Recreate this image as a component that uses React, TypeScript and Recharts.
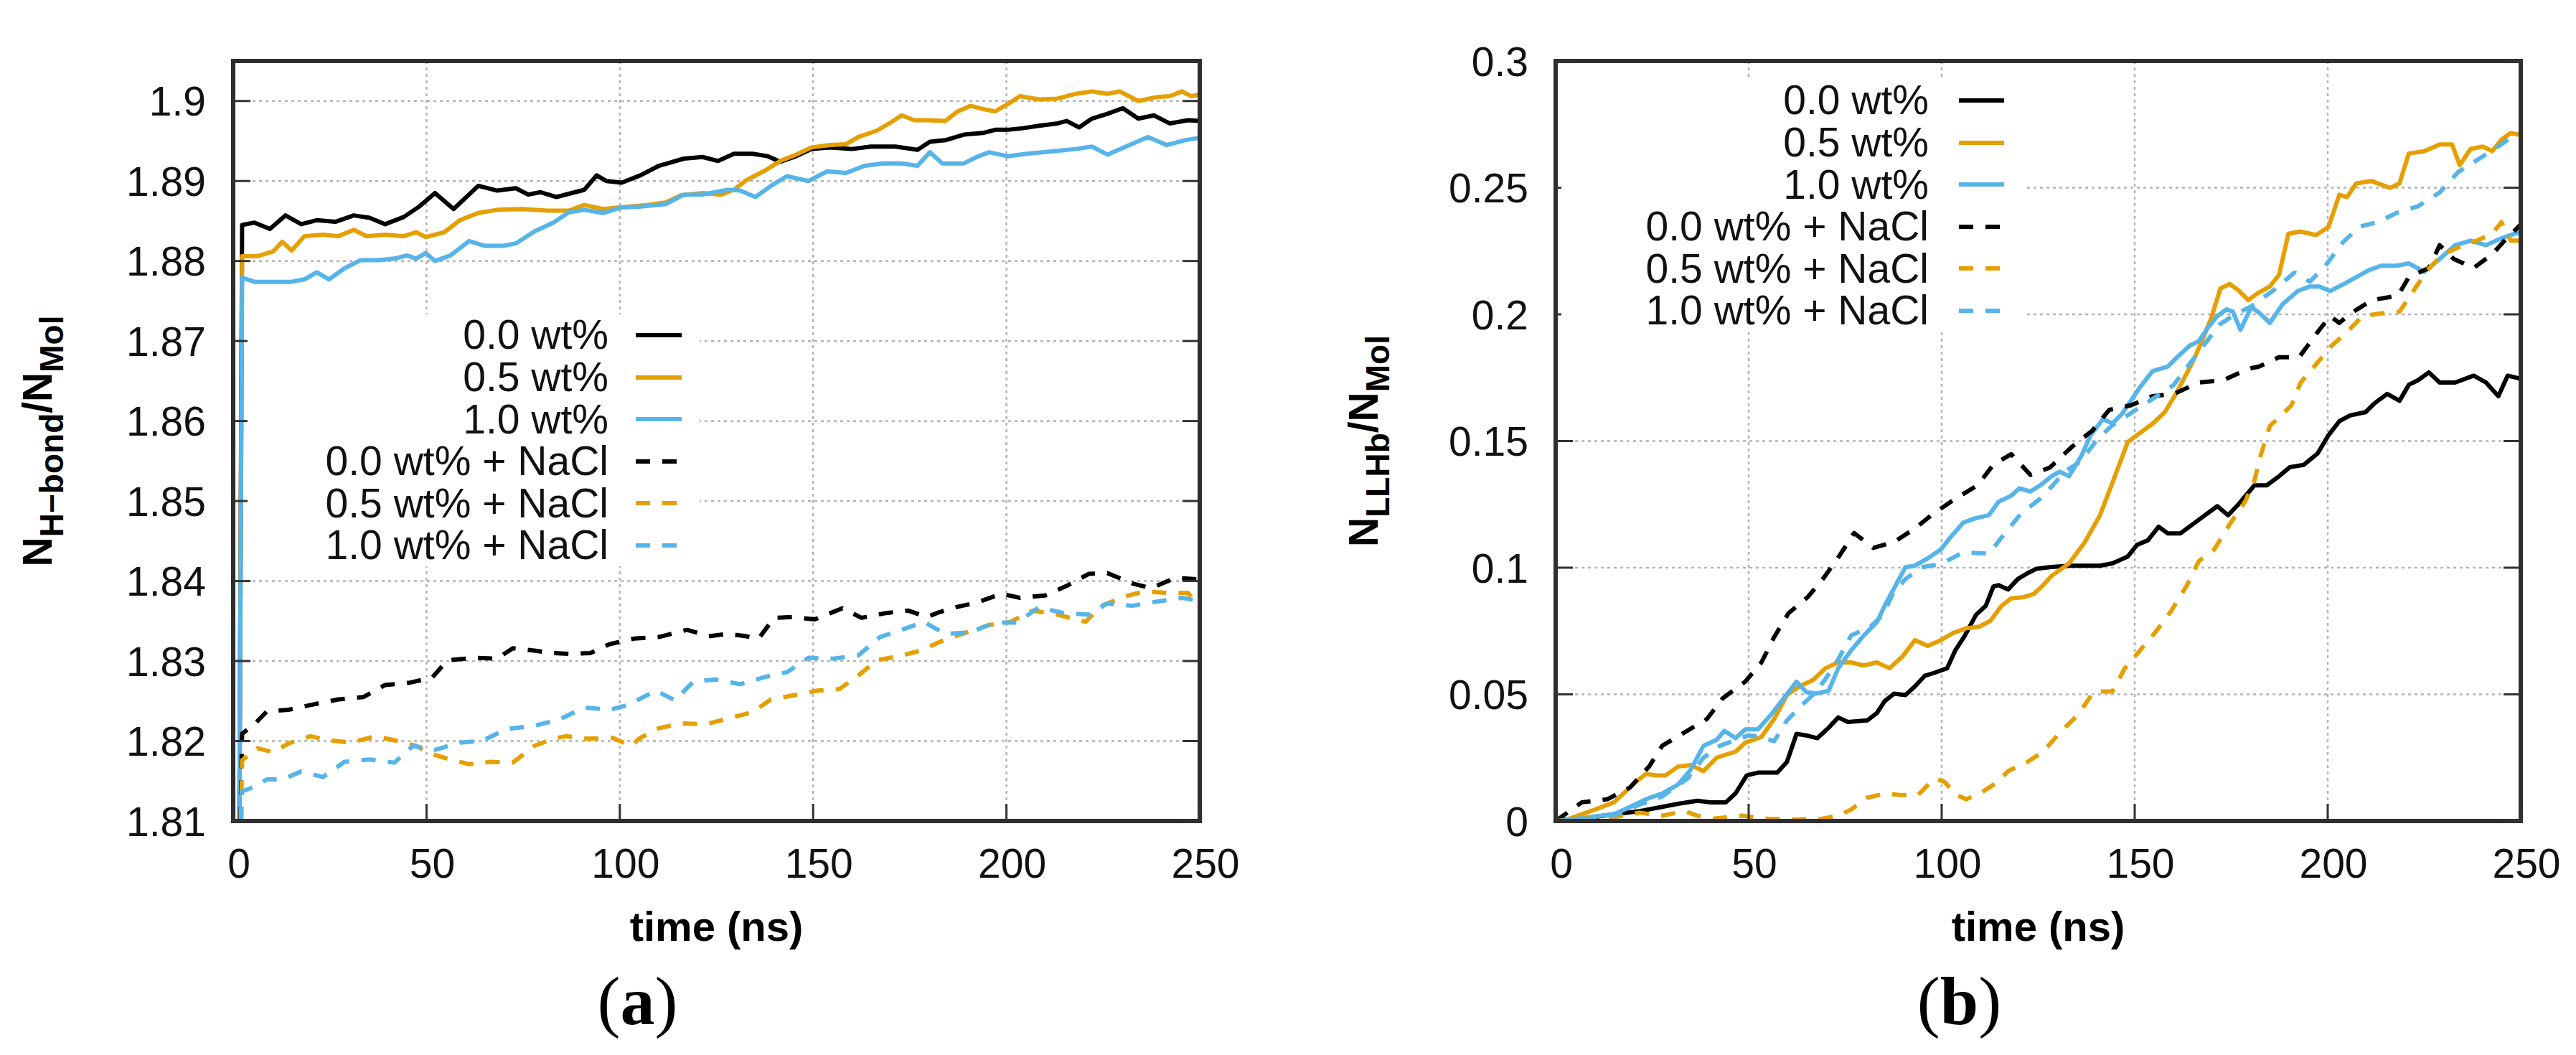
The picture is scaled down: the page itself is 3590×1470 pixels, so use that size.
import React from 'react';
import { LineChart, Line, XAxis, YAxis, CartesianGrid, Legend } from 'recharts';

// ---------- ticks / categories ----------
const X_TICKS = [0, 50, 100, 150, 200, 250];
const Y_TICKS_A = [1.81, 1.82, 1.83, 1.84, 1.85, 1.86, 1.87, 1.88, 1.89, 1.9];
const Y_TICKS_B = [0, 0.05, 0.1, 0.15, 0.2, 0.25, 0.3];
const SERIES_NAMES = ['0.0 wt%', '0.5 wt%', '1.0 wt%', '0.0 wt% + NaCl', '0.5 wt% + NaCl', '1.0 wt% + NaCl'];

// ---------- panel (a): N_H-bond / N_Mol  [time (ns), value] ----------
const A_00: [number, number][] = [[1.5,1.80],[2.3,1.8845],[5.5,1.8848],[9.5,1.884],[13.5,1.8857],[17.6,1.8846],[21.6,1.8851],[26.4,1.8849],[31.2,1.8857],[35.3,1.8854],[39.3,1.8846],[44.1,1.8855],[48.1,1.8868],[52.2,1.8885],[57,1.8865],[63.4,1.8894],[68.3,1.8888],[73.1,1.8891],[76.3,1.8883],[79.5,1.8886],[83.6,1.888],[90.8,1.8889],[94,1.8907],[96.5,1.89],[100.5,1.8898],[105.3,1.8907],[110.1,1.8919],[116.6,1.8928],[121.4,1.893],[125.4,1.8925],[129.5,1.8934],[134.3,1.8934],[138.3,1.8931],[141.5,1.8924],[145.6,1.8931],[149.6,1.894],[154.4,1.8942],[160.1,1.894],[164.9,1.8943],[171.3,1.8943],[177,1.8939],[180.2,1.8949],[184.2,1.8951],[189,1.8958],[193.9,1.896],[197.1,1.8964],[200.3,1.8964],[204.3,1.8966],[208.4,1.8969],[213.2,1.8972],[215.6,1.8975],[218.8,1.8967],[222.1,1.8978],[226.1,1.8984],[230.1,1.8991],[234.1,1.8978],[238.2,1.8982],[242.2,1.8972],[247,1.8976],[250,1.8975]];
const A_05: [number, number][] = [[1.5,1.80],[2.3,1.8806],[6.3,1.8806],[10.3,1.8812],[12.7,1.8824],[15.1,1.8813],[18.4,1.8831],[23.2,1.8833],[27.2,1.8831],[31.2,1.8839],[34.5,1.8831],[39.3,1.8833],[44.1,1.8831],[47.3,1.8836],[49.8,1.883],[54.6,1.8836],[58.6,1.8851],[63.4,1.886],[68.3,1.8864],[74.7,1.8865],[81.2,1.8863],[86.8,1.8863],[90.8,1.887],[95.7,1.8865],[102.1,1.8868],[106.9,1.887],[111.8,1.8873],[115.8,1.8882],[121.4,1.8885],[126.2,1.8883],[129.5,1.8889],[132.7,1.8901],[137.5,1.8913],[141.5,1.8925],[145.6,1.8933],[149.6,1.8942],[154.4,1.8945],[158.5,1.8946],[161.7,1.8955],[166.5,1.8963],[169.7,1.8972],[172.9,1.8982],[176.2,1.8976],[179.4,1.8976],[184.2,1.8975],[187.4,1.8987],[190.7,1.8994],[193.9,1.899],[197.1,1.8987],[200.3,1.8996],[203.5,1.9006],[208.4,1.9002],[213.2,1.9003],[218,1.9009],[222.1,1.9012],[226.1,1.9009],[229.3,1.9012],[234.1,1.9],[239,1.9005],[242.2,1.9006],[245.4,1.9012],[247.8,1.9006],[250,1.9008]];
const A_10: [number, number][] = [[1.5,1.80],[2.3,1.8779],[5.5,1.8774],[10.3,1.8774],[15.1,1.8774],[18.4,1.8777],[21.6,1.8786],[24.8,1.8777],[28.8,1.8791],[32.9,1.8801],[37.7,1.8801],[41.7,1.8803],[44.9,1.8807],[47.3,1.8803],[49.8,1.881],[52.2,1.88],[56.2,1.8807],[61,1.8825],[65.1,1.8819],[69.9,1.8819],[73.1,1.8822],[77.9,1.8837],[82.8,1.8848],[86.8,1.8861],[90.8,1.8864],[95.7,1.886],[100.5,1.8867],[105.3,1.8868],[111.8,1.8871],[116.6,1.8883],[121.4,1.8883],[127.9,1.8889],[131.1,1.8888],[135.1,1.888],[139.1,1.8894],[143.2,1.8906],[148.8,1.89],[153.6,1.8912],[158.5,1.891],[163.3,1.8919],[168.1,1.8922],[172.9,1.8922],[177,1.8919],[180.2,1.8936],[183.4,1.8922],[189,1.8922],[192.3,1.893],[195.5,1.8936],[200.3,1.8931],[205.2,1.8934],[211.6,1.8937],[218,1.894],[222.1,1.8943],[226.1,1.8933],[230.9,1.8943],[236.6,1.8955],[241.4,1.8945],[246.2,1.8951],[250,1.8954]];
const A_00N: [number, number][] = [[1.5,1.80],[2.3,1.8209],[5.5,1.8221],[8.7,1.8237],[14.3,1.8239],[20,1.8245],[27.2,1.8252],[33.7,1.8255],[39.3,1.827],[45.7,1.8273],[51.4,1.8279],[55.4,1.8301],[62.6,1.8304],[68.3,1.8303],[72.3,1.8316],[77.9,1.8313],[82.8,1.831],[86.8,1.8309],[92.4,1.831],[97.3,1.8321],[103.7,1.8328],[110.1,1.833],[117.4,1.8339],[123,1.8331],[127.9,1.8334],[132.7,1.8331],[135.9,1.8328],[139.9,1.8354],[144.8,1.8355],[150.4,1.8352],[157.6,1.8366],[162.5,1.8354],[168.9,1.836],[174.6,1.8363],[179.4,1.8355],[182.6,1.8361],[186.6,1.8367],[192.3,1.8373],[198.7,1.8384],[203.5,1.8379],[210,1.8382],[215.6,1.8394],[221.3,1.8409],[226.1,1.841],[232.5,1.8397],[237.4,1.8391],[243.8,1.8404],[250,1.8402]];
const A_05N: [number, number][] = [[1.5,1.80],[2.3,1.8176],[6.3,1.8191],[10.3,1.8186],[14.3,1.8197],[20,1.8206],[24.8,1.8201],[30.4,1.8198],[36.9,1.8206],[42.5,1.82],[47.3,1.8194],[50.6,1.8185],[54.6,1.8179],[61,1.8171],[66.7,1.8174],[72.3,1.8173],[77.9,1.8194],[82.8,1.8203],[86,1.8206],[91.6,1.8203],[98.1,1.8204],[102.9,1.8194],[105.3,1.8204],[110.1,1.8216],[115.8,1.8222],[122.2,1.8221],[127.1,1.8227],[134.3,1.8236],[139.1,1.8252],[144.8,1.8257],[151.2,1.8263],[156.8,1.8265],[161.7,1.8282],[166.5,1.8301],[172.1,1.8306],[177.8,1.8313],[184.2,1.8327],[189.9,1.8336],[195.5,1.8345],[201.1,1.8349],[206.8,1.8363],[214,1.8357],[220.5,1.8349],[224.5,1.8369],[230.9,1.8381],[235.7,1.8387],[242.2,1.8385],[247,1.8385],[250,1.8367]];
const A_10N: [number, number][] = [[1.5,1.80],[2.3,1.8137],[5.5,1.8143],[8.7,1.8152],[12.7,1.8152],[17.6,1.8162],[23.2,1.8155],[28.8,1.8174],[35.3,1.8177],[41.7,1.8173],[46.5,1.8194],[52.2,1.8189],[58.6,1.8198],[64.3,1.82],[70.7,1.8215],[77.9,1.8219],[84.4,1.8227],[90.8,1.8242],[97.3,1.8239],[102.1,1.8245],[109.3,1.8263],[114.2,1.8251],[119,1.8274],[124.6,1.8277],[131.1,1.8271],[137.5,1.828],[143.2,1.8286],[148.8,1.8304],[155.2,1.8303],[161.7,1.8307],[167.3,1.833],[172.9,1.8339],[178.6,1.8349],[184.2,1.8334],[190.7,1.8336],[197.1,1.8348],[202.7,1.8348],[208.4,1.8367],[214.8,1.836],[221.3,1.8358],[226.1,1.8372],[232.5,1.8369],[239.8,1.8375],[245.4,1.8379],[250,1.8375]];

// ---------- panel (b): N_LLHb / N_Mol  [time (ns), value] ----------
const B_00: [number, number][] = [[0,0],[6.8,0.0009],[15.1,0.0027],[21.7,0.0039],[27.6,0.0056],[31.7,0.0068],[36.7,0.008],[40,0.0074],[44.1,0.0074],[46.6,0.0109],[49.5,0.018],[52.4,0.0191],[57.4,0.0191],[59.9,0.0233],[62.4,0.0344],[64.9,0.0338],[67.8,0.0327],[70.7,0.0368],[73.2,0.0409],[75.7,0.0391],[80.7,0.0397],[83.2,0.0426],[85.2,0.0473],[87.7,0.0503],[90.6,0.0497],[93.1,0.0532],[95.6,0.0573],[98.1,0.0585],[101.4,0.0603],[103.5,0.0673],[106,0.0732],[108.9,0.0814],[111.4,0.0849],[113.4,0.0926],[114.7,0.0931],[117.2,0.0914],[119.7,0.0955],[122.2,0.0978],[124.6,0.0996],[128,0.1002],[133,0.1008],[141,0.1008],[144.2,0.1017],[148.2,0.1044],[150.6,0.109],[153.4,0.1108],[156.2,0.1162],[158.6,0.1135],[161.8,0.1135],[165,0.1171],[168.2,0.1207],[171.4,0.1243],[174.2,0.1207],[177,0.1252],[181,0.1325],[184.2,0.1325],[187.4,0.1361],[190.2,0.1397],[193.8,0.1406],[197.4,0.1451],[200.2,0.1523],[203,0.1578],[205.8,0.1601],[209.8,0.1614],[212.2,0.165],[215.4,0.1686],[218.6,0.1659],[221,0.1722],[223.4,0.174],[226.2,0.1771],[229,0.1731],[233,0.1731],[237.8,0.1758],[241,0.1731],[244.2,0.1677],[246.6,0.1758],[249.1,0.1749],[250,0.1745]];
const B_05: [number, number][] = [[0,0],[3.5,0.0009],[6.8,0.0027],[11,0.005],[15.1,0.0074],[17.6,0.0109],[20.9,0.0156],[23.4,0.0186],[25.9,0.018],[28.4,0.018],[31.7,0.0215],[35,0.0221],[38.3,0.0197],[41.7,0.025],[44.1,0.0262],[46.6,0.0274],[49.1,0.0309],[53.3,0.0332],[56.6,0.0403],[59.9,0.0497],[63.2,0.0532],[66.6,0.0556],[69.9,0.0603],[73.2,0.0626],[76.5,0.0626],[79.8,0.0614],[83.2,0.0626],[86.5,0.0603],[89.8,0.0649],[93.1,0.0714],[96.4,0.0691],[99.8,0.0714],[103.1,0.0743],[106.4,0.0761],[109.7,0.0767],[112.6,0.079],[115.5,0.0849],[118,0.0879],[121.3,0.0884],[123.8,0.0896],[126.3,0.0931],[128.4,0.0967],[133,0.1017],[137,0.1099],[141,0.1207],[144.2,0.1334],[148.2,0.1496],[151.4,0.1532],[154.6,0.1568],[157.8,0.1614],[161,0.1695],[165,0.1812],[167.4,0.1894],[169.8,0.1984],[172.2,0.2102],[174.6,0.212],[177,0.2093],[179.4,0.2056],[181.8,0.2083],[185,0.211],[187.4,0.2156],[189.8,0.2318],[193,0.2327],[197,0.2313],[200.2,0.2345],[203,0.2472],[205,0.2463],[207.4,0.2517],[211.4,0.2526],[216.2,0.2499],[218.6,0.2517],[221,0.2635],[225,0.2644],[229,0.2671],[232.2,0.2671],[234.2,0.2589],[237,0.2653],[240.2,0.2662],[242.6,0.2644],[245,0.2689],[247.4,0.2716],[250,0.2707]];
const B_10: [number, number][] = [[0,0],[3.5,0.0004],[8.5,0.0015],[15.1,0.0027],[19.3,0.0056],[23.4,0.0086],[27.6,0.0109],[31.7,0.0144],[35,0.0203],[38.3,0.0297],[41.7,0.0321],[43.7,0.0356],[46.6,0.0327],[49.1,0.0362],[52.4,0.0362],[55.8,0.042],[59.1,0.0485],[62.4,0.055],[64.9,0.0509],[67.4,0.0503],[70.7,0.0514],[73.2,0.0603],[76.5,0.0673],[79.8,0.0732],[83.2,0.0785],[85.6,0.0861],[88.1,0.0931],[90.6,0.1002],[93.1,0.1008],[96.4,0.1037],[99.8,0.1072],[102.2,0.1119],[105.6,0.1178],[108.9,0.1196],[112.2,0.1207],[114.7,0.126],[118,0.1284],[120.1,0.1313],[123,0.1301],[125.5,0.1325],[128.4,0.136],[130.6,0.1379],[133,0.1361],[136.2,0.1442],[138.6,0.1523],[141.8,0.1587],[144.2,0.1569],[146.6,0.1605],[149,0.1659],[151.4,0.1713],[154.6,0.1776],[158.6,0.1794],[161,0.1831],[164.2,0.1876],[166.6,0.1894],[169,0.1948],[171.4,0.1993],[173.8,0.202],[175.4,0.2011],[177.4,0.1939],[180.2,0.2029],[182.6,0.2002],[185,0.1966],[188.2,0.2038],[192.2,0.2092],[195.4,0.211],[197.8,0.211],[200.6,0.2092],[204.2,0.212],[207.4,0.2147],[210.6,0.2174],[213.8,0.2192],[217.8,0.2192],[221,0.2201],[225,0.2168],[229,0.2219],[233,0.2273],[237,0.2291],[241,0.2273],[245,0.23],[250,0.2327]];
const B_00N: [number, number][] = [[0,0],[6.8,0.0074],[13.4,0.0086],[19.3,0.0133],[24.2,0.0215],[27.6,0.0297],[33.4,0.035],[39.2,0.0403],[43.3,0.0485],[49.1,0.055],[53.3,0.0626],[56.6,0.0726],[60.3,0.082],[65.3,0.0884],[69.5,0.0961],[73.6,0.1049],[77.3,0.1137],[82.3,0.1078],[87.7,0.1102],[93.1,0.1155],[97.3,0.1207],[103.5,0.1272],[109.3,0.1325],[113.4,0.1407],[118,0.1448],[123,0.1366],[128,0.1395],[133.8,0.1478],[139,0.1541],[143.4,0.1623],[149,0.1641],[154.6,0.1677],[160.2,0.1686],[166.6,0.1731],[173,0.174],[179.4,0.1785],[182.2,0.1794],[187.4,0.1831],[192.6,0.1831],[197.4,0.193],[200.6,0.1993],[203,0.1966],[205.8,0.2002],[211.4,0.2056],[218.2,0.2074],[221,0.2147],[226.2,0.2183],[229,0.2273],[232.6,0.2219],[237.8,0.2183],[242.6,0.2237],[245.8,0.2291],[250,0.2355]];
const B_05N: [number, number][] = [[0,0],[6.8,0.0009],[15.1,0.0015],[21.7,0.0033],[27.6,0.0021],[33.4,0.0039],[36.7,0.0021],[40.8,0.0009],[48.3,0.0021],[54.9,0.0009],[61.6,0.0006],[69,0.0009],[73.2,0.0021],[76.5,0.0045],[80.7,0.0092],[85.6,0.0109],[89,0.0103],[93.9,0.0103],[98.1,0.0168],[100.6,0.0156],[103.9,0.0103],[106.4,0.0086],[110.5,0.0115],[114.7,0.0156],[117.2,0.0197],[122.2,0.0233],[126.3,0.0274],[130.6,0.0349],[135.4,0.0421],[139.4,0.0511],[144.2,0.0511],[147.4,0.0602],[151.4,0.0674],[155.4,0.0746],[159.4,0.0828],[163.4,0.0927],[166.6,0.1026],[170.6,0.1072],[174.6,0.1171],[178.6,0.1261],[181,0.1343],[182.6,0.1442],[185,0.1559],[188.2,0.1605],[190.6,0.1641],[193,0.1731],[197,0.1803],[201,0.1876],[205,0.193],[209,0.1993],[213,0.2002],[218.6,0.2011],[222.6,0.2102],[225.8,0.2174],[229.8,0.2237],[233.8,0.2264],[238.6,0.2291],[242.6,0.2318],[245,0.2364],[247.4,0.2291],[250,0.2291]];
const B_10N: [number, number][] = [[0,0],[6.8,0.0006],[15.1,0.0021],[19.3,0.005],[23.4,0.0074],[27.6,0.0097],[30.9,0.0133],[34.2,0.0168],[38.3,0.025],[42.5,0.0297],[45.8,0.0315],[50,0.0338],[53.3,0.0332],[56.6,0.0315],[59.9,0.0397],[64.1,0.0462],[67.4,0.0509],[69.9,0.0561],[73.2,0.0638],[76.5,0.0732],[81.5,0.0767],[84.8,0.0814],[87.3,0.0896],[90.6,0.0955],[94.8,0.1002],[99.8,0.1014],[105.6,0.1061],[112.2,0.1055],[115.5,0.1119],[120.5,0.1213],[125.5,0.1272],[128.4,0.1319],[132,0.138],[136,0.142],[140,0.15],[144,0.156],[148,0.16],[152,0.164],[156,0.168],[160,0.172],[164,0.18],[168,0.188],[172,0.196],[176,0.2],[180,0.203],[185.8,0.2093],[191.4,0.2165],[195.4,0.2129],[199.4,0.2192],[203.8,0.2282],[208.2,0.2346],[213,0.2364],[217.8,0.24],[223.4,0.2427],[229,0.2481],[233.8,0.2562],[238.6,0.2608],[245,0.2671],[248.2,0.2707],[250,0.2716]];

// ---------- styles ----------
const COLORS = ['#000000', '#E69F00', '#56B4E9', '#000000', '#E69F00', '#56B4E9'];
const DASHES = [undefined, undefined, undefined, '20 17', '20 17', '20 17'];
const SANS = '"Liberation Sans", Arial, Helvetica, sans-serif';
const SERIF = '"Liberation Serif", "Times New Roman", serif';
const H = 1470;
const TOP = 85;
const BOTTOM = 326;
const BORDER = { stroke: '#2e2e2e', strokeWidth: 6, strokeLinecap: 'square' as const };
const TICK_LEN = 24;
const ROW_H = 58.6;
const FONT = 57;
const LINE_W = 6;

const toPts = (arr: [number, number][]) => arr.map(([t, v]) => ({ t, v }));
const fmt = (v: number) => String(Number(v.toFixed(4)));

const XTickBottom = (p: any) => (
  <g>
    <line x1={p.x} x2={p.x} y1={p.y} y2={p.y - TICK_LEN} stroke="#333" strokeWidth={3} />
    <text x={p.x + 8} y={p.y + 79} textAnchor="middle" fontFamily={SANS} fontSize={FONT} fill="#111">
      {fmt(p.payload.value)}
    </text>
  </g>
);
const XTickTop = (p: any) => (
  <line x1={p.x} x2={p.x} y1={p.y} y2={p.y + TICK_LEN} stroke="#333" strokeWidth={3} />
);
const YTickLeft = (p: any) => (
  <g>
    <line x1={p.x} x2={p.x + TICK_LEN} y1={p.y} y2={p.y} stroke="#333" strokeWidth={3} />
    <text x={p.x - 38} y={p.y} dy="0.36em" textAnchor="end" fontFamily={SANS} fontSize={FONT} fill="#111">
      {fmt(p.payload.value)}
    </text>
  </g>
);
const YTickRight = (p: any) => (
  <line x1={p.x} x2={p.x - TICK_LEN} y1={p.y} y2={p.y} stroke="#333" strokeWidth={3} />
);

type Cfg = {
  width: number;
  left: number;
  right: number;
  yDomain: [number, number];
  yTicks: number[];
  series: [number, number][][];
  sub1: string;
  caption: string;
  yLabelGap: number;
  legend: { left: number; top: number; textW: number; gap: number; sample: number; pad: number };
};

const CFG_A: Cfg = {
  width: 1795, left: 325, right: 123,
  yDomain: [1.81, 1.905], yTicks: Y_TICKS_A,
  series: [A_00, A_05, A_10, A_00N, A_05N, A_10N],
  sub1: 'H\u2212bond', caption: 'a', yLabelGap: 253,
  legend: { left: 345, top: 437.7, textW: 503, gap: 38, sample: 64, pad: 25 },
};
const CFG_B: Cfg = {
  width: 1795, left: 373, right: 77,
  yDomain: [0, 0.3], yTicks: Y_TICKS_B,
  series: [B_00, B_05, B_10, B_00N, B_05N, B_10N],
  sub1: 'LLHb', caption: 'b', yLabelGap: 248,
  legend: { left: 381, top: 110.7, textW: 512, gap: 42, sample: 63, pad: 29 },
};

function Panel({ cfg }: { cfg: Cfg }) {
  const lg = cfg.legend;
  const plotW = cfg.width - cfg.left - cfg.right;
  const plotH = H - TOP - BOTTOM;

  const renderLegend = (props: any) => {
    const raw = (props && props.payload && props.payload.length) ? props.payload : SERIES_NAMES.map((n) => ({ value: n }));
    const items = [...raw].sort((a: any, b: any) => SERIES_NAMES.indexOf(a.value) - SERIES_NAMES.indexOf(b.value));
    return (
      <div style={{ background: '#ffffff', width: lg.textW + lg.gap + lg.sample + lg.pad }}>
        {items.map((e: any) => {
          const i = SERIES_NAMES.indexOf(e.value);
          return (
            <div key={e.value} style={{ display: 'flex', alignItems: 'center', height: ROW_H }}>
              <span style={{ width: lg.textW, textAlign: 'right', fontFamily: SANS, fontSize: FONT, lineHeight: 1, whiteSpace: 'nowrap', color: '#111' }}>
                {e.value}
              </span>
              <svg width={lg.gap + lg.sample} height={12} style={{ display: 'block' }}>
                <line x1={lg.gap} x2={lg.gap + lg.sample} y1={6} y2={6} stroke={COLORS[i]} strokeWidth={LINE_W} strokeDasharray={DASHES[i]} />
              </svg>
            </div>
          );
        })}
      </div>
    );
  };

  const yLabel = (props: any) => {
    const vb = (props && props.viewBox) || { x: 0, y: TOP, width: cfg.left, height: plotH };
    const cx = vb.x + vb.width - cfg.yLabelGap;
    const cy = vb.y + vb.height / 2;
    return (
      <text x={cx} y={cy} transform={`rotate(-90 ${cx} ${cy})`} textAnchor="middle" fontFamily={SANS} fontWeight="bold" fontSize={FONT} fill="#000">
        N<tspan fontSize={46} dy={16}>{cfg.sub1}</tspan><tspan dy={-16}>/N</tspan><tspan fontSize={46} dy={16}>Mol</tspan>
      </text>
    );
  };

  const xLabel = (props: any) => {
    const vb = (props && props.viewBox) || { x: cfg.left, y: TOP + plotH, width: plotW, height: BOTTOM };
    const cx = vb.x + vb.width / 2;
    return (
      <g>
        <text x={cx} y={vb.y + 167} textAnchor="middle" fontFamily={SANS} fontWeight="bold" fontSize={58} fill="#000">
          time (ns)
        </text>
        <text x={cx - 110} y={vb.y + 283} textAnchor="middle" fontFamily={SERIF} fontSize={96} fill="#000">
          (<tspan fontWeight="bold">{cfg.caption}</tspan>)
        </text>
      </g>
    );
  };

  return (
    <LineChart width={cfg.width} height={H} margin={{ top: 0, right: 0, bottom: 0, left: 0 }}>
      <CartesianGrid xAxisId="b" yAxisId="l" stroke="#b3b3b3" strokeWidth={2.5} strokeDasharray="4 5" />
      <XAxis xAxisId="b" dataKey="t" type="number" orientation="bottom" domain={[0, 250]} ticks={X_TICKS} interval={0}
        allowDataOverflow height={BOTTOM} tickSize={0} tickMargin={0} tickLine={false} axisLine={BORDER}
        tick={(p: any) => <XTickBottom {...p} />} label={xLabel} />
      <XAxis xAxisId="t" type="number" orientation="top" domain={[0, 250]} ticks={X_TICKS} interval={0}
        allowDataOverflow height={TOP} tickSize={0} tickMargin={0} tickLine={false} axisLine={BORDER}
        tick={(p: any) => <XTickTop {...p} />} />
      <YAxis yAxisId="l" type="number" orientation="left" domain={cfg.yDomain} ticks={cfg.yTicks} interval={0}
        allowDataOverflow width={cfg.left} tickSize={0} tickMargin={0} tickLine={false} axisLine={BORDER}
        tick={(p: any) => <YTickLeft {...p} />} label={yLabel} />
      <YAxis yAxisId="r" type="number" orientation="right" domain={cfg.yDomain} ticks={cfg.yTicks} interval={0}
        allowDataOverflow width={cfg.right} tickSize={0} tickMargin={0} tickLine={false} axisLine={BORDER}
        tick={(p: any) => <YTickRight {...p} />} />
      {cfg.series.map((s, i) => (
        <Line key={SERIES_NAMES[i]} xAxisId="b" yAxisId="l" data={toPts(s)} dataKey="v" name={SERIES_NAMES[i]}
          type="linear" stroke={COLORS[i]} strokeWidth={LINE_W} strokeDasharray={DASHES[i]} strokeLinejoin="round"
          dot={false} activeDot={false} isAnimationActive={false} />
      ))}
      <Legend layout="vertical" align="center" verticalAlign="middle"
        wrapperStyle={{ left: lg.left, top: lg.top, width: 'auto', height: 'auto', margin: 0, padding: 0 }}
        content={renderLegend} />
    </LineChart>
  );
}

export default function App() {
  return (
    <div style={{ position: 'absolute', left: 0, top: 0, width: 3590, height: H, background: '#ffffff', overflow: 'hidden' }}>
      <div style={{ position: 'absolute', left: 0, top: 0 }}>
        <Panel cfg={CFG_A} />
      </div>
      <div style={{ position: 'absolute', left: 1795, top: 0 }}>
        <Panel cfg={CFG_B} />
      </div>
    </div>
  );
}
